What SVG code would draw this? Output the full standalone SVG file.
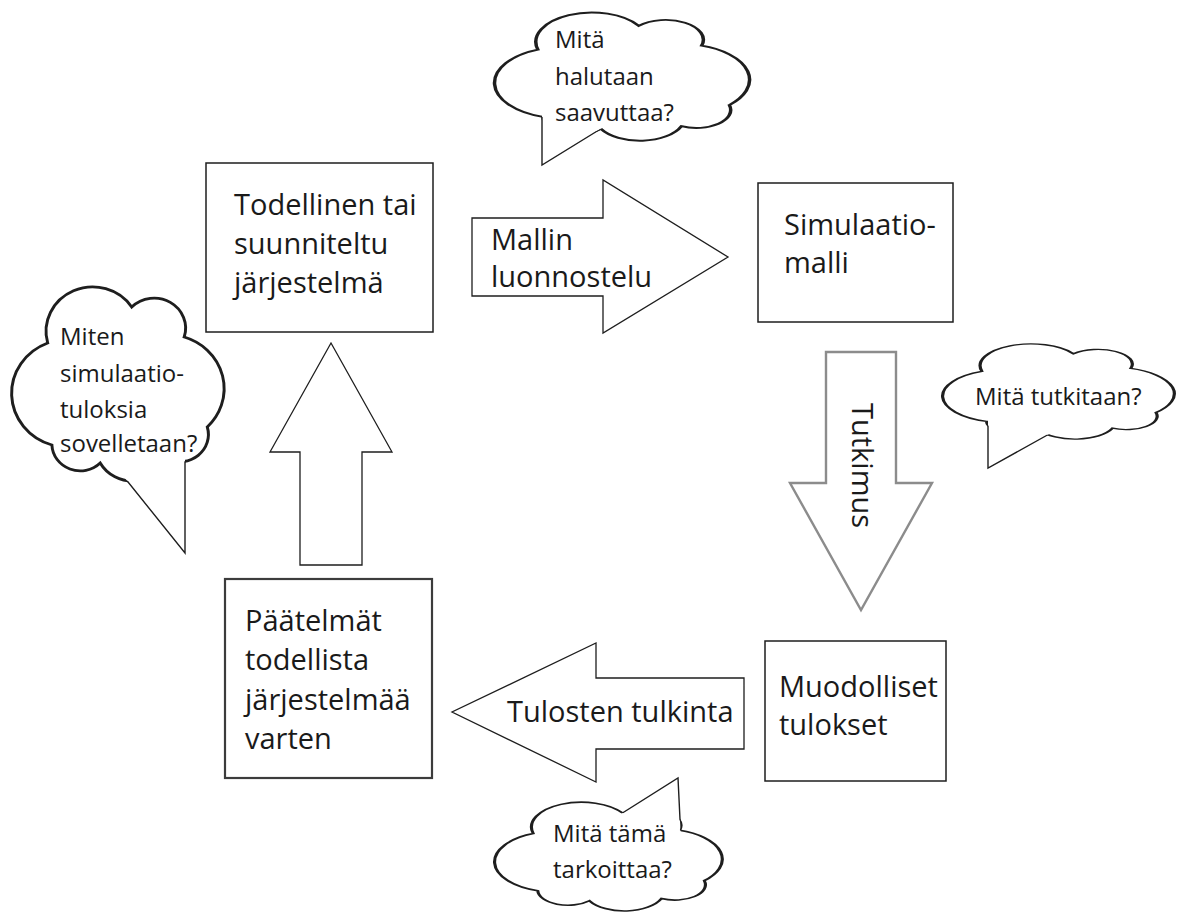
<svg xmlns="http://www.w3.org/2000/svg" xmlns:xlink="http://www.w3.org/1999/xlink" width="1182" height="917" viewBox="0 0 1182 917">
<style>
.box{fill:#fff;stroke:#1e1e1e;stroke-width:1.5}
.box4{fill:#fff;stroke:#3c3c3c;stroke-width:2.2}
.arr{fill:#fff;stroke:#1e1e1e;stroke-width:1.3;stroke-linejoin:miter}
.arrg{fill:#fff;stroke:#8c8c8c;stroke-width:2.4;stroke-linejoin:miter}
.cloud{fill:#fff;stroke:#1e1e1e;stroke-width:1.4}
.tail{fill:none;stroke:#1e1e1e;stroke-width:1.4;stroke-linejoin:miter}
.t{font-family:"Open Sans","Noto Sans",sans-serif;font-size:29px;fill:#1a1a1a}
.c{font-family:"Open Sans","Noto Sans",sans-serif;font-size:24px;fill:#1a1a1a}
</style>
<defs>
<path id="cl" d="M19,81 A27,27 0 0 1 17,30 A22.2,22.2 0 0 1 57,12 A15,15 0 0 1 82,27 A27,27 0 0 1 93,72 A13.6,13.6 0 0 1 74,88 A17.8,17.8 0 0 1 42,90 A13.5,13.5 0 0 1 19,81 Z"/>
<mask id="cut" maskUnits="userSpaceOnUse" x="0" y="0" width="1182" height="917">
<rect x="0" y="0" width="1182" height="917" fill="#fff"/>
<polygon points="542,165 542,105 620,117" fill="#000"/>
<polygon points="988,468 988,410 1060,428" fill="#000"/>
<polygon points="678,778 605,824 681,840" fill="#000"/>
<polygon points="185,553 116,467 185,449" fill="#000"/>
</mask>
<mask id="outside" maskUnits="userSpaceOnUse" x="0" y="0" width="1182" height="917">
<rect x="0" y="0" width="1182" height="917" fill="#fff"/>
<use xlink:href="#cl" href="#cl" transform="translate(495,10) scale(2.52,1.32)" fill="#000"/>
<use xlink:href="#cl" href="#cl" transform="translate(943,342) scale(2.29,0.98)" fill="#000"/>
<use xlink:href="#cl" href="#cl" transform="translate(495,800) scale(2.25,1.12)" fill="#000"/>
<use xlink:href="#cl" href="#cl" transform="translate(12,283) scale(2.1,2.0)" fill="#000"/>
</mask>
</defs>
<rect x="0" y="0" width="1182" height="917" fill="#fff"/>

<g id="connectors">
<g id="arrow-mallin">
<polygon class="arr" points="472,218 603,218 603,180 728,257 603,333 603,296 472,296"/>
<text class="t" x="491" y="250">Mallin</text>
<text class="t" x="491" y="287">luonnostelu</text>
</g>
<g id="arrow-tutkimus">
<polygon class="arrg" points="826,352 896,352 896,483 932,483 861,610 790,483 826,483"/>
<text class="t" transform="translate(852,403) rotate(90)">Tutkimus</text>
</g>
<g id="arrow-tulosten">
<polygon class="arr" points="744,678 596,678 596,643 452,712 596,782 596,749 744,749"/>
<text class="t" x="507" y="722">Tulosten tulkinta</text>
</g>
<g id="arrow-up">
<polygon class="arr" points="300,565 300,452 270,452 331,343 392,452 362,452 362,565"/>
</g>
</g>

<g id="node-todellinen">
<rect class="box" x="206" y="163" width="227" height="169"/>
<text class="t" x="234" y="215">Todellinen tai</text>
<text class="t" x="234" y="254">suunniteltu</text>
<text class="t" x="234" y="293">järjestelmä</text>
</g>
<g id="node-simulaatiomalli">
<rect class="box" x="758" y="183" width="195" height="139"/>
<text class="t" x="784" y="235">Simulaatio-</text>
<text class="t" x="784" y="273">malli</text>
</g>
<g id="node-muodolliset">
<rect class="box" x="765" y="641" width="181" height="140"/>
<text class="t" x="779" y="697">Muodolliset</text>
<text class="t" x="779" y="735">tulokset</text>
</g>
<g id="node-paatelmat">
<rect class="box4" x="225" y="579" width="207" height="199"/>
<text class="t" x="245" y="631">Päätelmät</text>
<text class="t" x="245" y="670">todellista</text>
<text class="t" x="245" y="710">järjestelmää</text>
<text class="t" x="245" y="749">varten</text>
</g>

<g id="cloud-halutaan">
<g mask="url(#cut)"><use xlink:href="#cl" href="#cl" class="cloud" transform="translate(495,10) scale(2.52,1.32)" vector-effect="non-scaling-stroke" style="vector-effect:non-scaling-stroke"/></g>
<g mask="url(#outside)"><polyline class="tail" points="542,105 542,165 620,117"/></g>
<text class="c" x="555" y="48">Mitä</text>
<text class="c" x="555" y="85">halutaan</text>
<text class="c" x="555" y="121">saavuttaa?</text>
</g>
<g id="cloud-tutkitaan">
<g mask="url(#cut)"><use xlink:href="#cl" href="#cl" class="cloud" transform="translate(943,342) scale(2.29,0.98)" style="vector-effect:non-scaling-stroke"/></g>
<g mask="url(#outside)"><polyline class="tail" points="988,410 988,468 1060,428"/></g>
<text class="c" x="975" y="405">Mitä tutkitaan?</text>
</g>
<g id="cloud-tarkoittaa">
<g mask="url(#cut)"><use xlink:href="#cl" href="#cl" class="cloud" transform="translate(495,800) scale(2.25,1.12)" style="vector-effect:non-scaling-stroke"/></g>
<g mask="url(#outside)"><polyline class="tail" points="605,824 678,778 681,840"/></g>
<text class="c" x="553" y="842">Mitä tämä</text>
<text class="c" x="553" y="878">tarkoittaa?</text>
</g>
<g id="cloud-sovelletaan">
<g mask="url(#cut)"><use xlink:href="#cl" href="#cl" class="cloud" transform="translate(12,283) scale(2.1,2.0)" style="vector-effect:non-scaling-stroke"/></g>
<g mask="url(#outside)"><polyline class="tail" points="116,467 185,553 185,449"/></g>
<text class="c" x="60" y="345">Miten</text>
<text class="c" x="60" y="382">simulaatio-</text>
<text class="c" x="60" y="418">tuloksia</text>
<text class="c" x="60" y="452">sovelletaan?</text>
</g>
</svg>
